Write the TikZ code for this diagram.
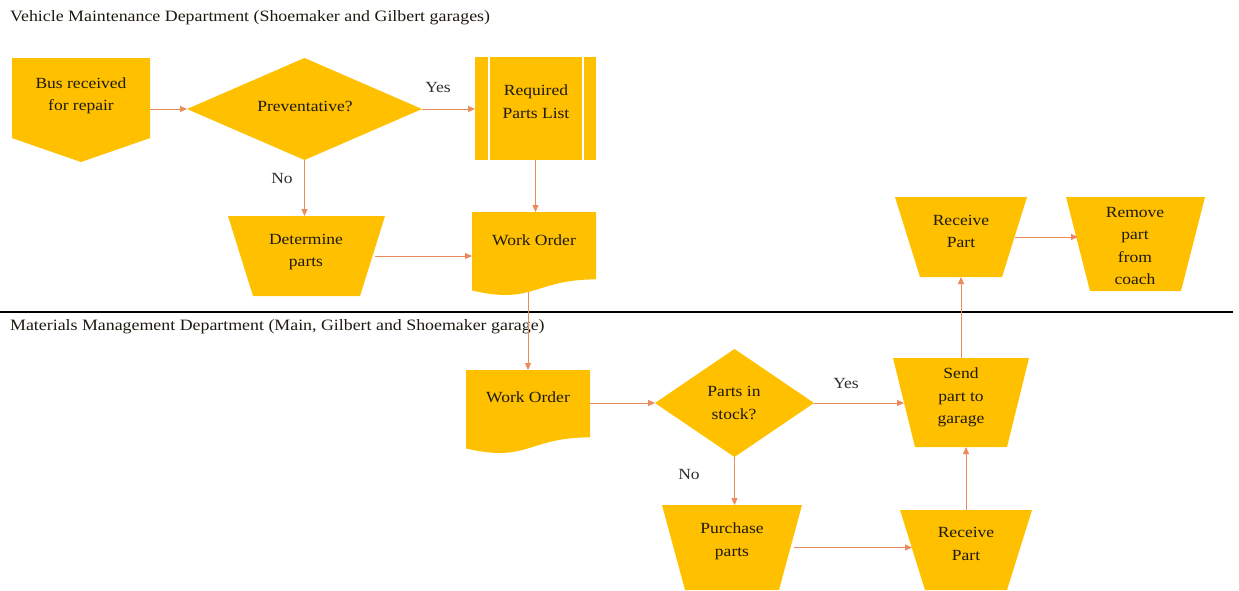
\documentclass[tikz,border=0pt]{standalone}
\usepackage{fontspec}
\setmainfont{Liberation Serif}[FakeStretch=1.13]
\usetikzlibrary{arrows.meta,calc}
\definecolor{gold}{HTML}{FFC000}
\definecolor{arrc}{HTML}{EC8A5E}
\definecolor{txt}{HTML}{1E1A10}
\definecolor{lblc}{HTML}{2E2E2E}
\begin{document}
\begin{tikzpicture}[x=1pt,y=-1pt,
  box/.style={rectangle, inner sep=0pt, outer sep=0pt},
  manop/.style={path picture={\fill[gold] (path picture bounding box.north west) -- (path picture bounding box.north east) -- ([xshift=-#1]path picture bounding box.south east) -- ([xshift=#1]path picture bounding box.south west) -- cycle;}},
  decision/.style={path picture={\fill[gold] (path picture bounding box.north) -- (path picture bounding box.east) -- (path picture bounding box.south) -- (path picture bounding box.west) -- cycle;}},
  offpage/.style={path picture={\fill[gold] (path picture bounding box.north west) -- (path picture bounding box.north east) -- ($(path picture bounding box.north east)!0.77!(path picture bounding box.south east)$) -- (path picture bounding box.south) -- ($(path picture bounding box.north west)!0.77!(path picture bounding box.south west)$) -- cycle;}},
  predef/.style={path picture={\fill[gold] (path picture bounding box.north west) rectangle (path picture bounding box.south east);
     \draw[white, line width=2.5pt] ([xshift=14pt]path picture bounding box.north west) -- ([xshift=14pt]path picture bounding box.south west);
     \draw[white, line width=2.5pt] ([xshift=-13pt]path picture bounding box.north east) -- ([xshift=-13pt]path picture bounding box.south east);}},
  doc/.style={path picture={\fill[gold] (path picture bounding box.north west) -- (path picture bounding box.north east) -- ($(path picture bounding box.north east)!0.802!(path picture bounding box.south east)$) .. controls ($(path picture bounding box.north)!0.802!(path picture bounding box.south)$) and ($(path picture bounding box.north)!1.108!(path picture bounding box.south)$) .. ($(path picture bounding box.north west)!0.934!(path picture bounding box.south west)$) -- cycle;}},
  txtst/.style={text=txt, font=\fontsize{15.5}{22.5}\selectfont, align=center, inner sep=0pt},
  lbl/.style={text=lblc, font=\fontsize{15.5}{18}\selectfont, inner sep=0pt},
  ttl/.style={text=txt, font=\fontsize{15.8}{18}\selectfont, inner sep=0pt, anchor=west},
  arr/.style={draw=arrc, line width=0.9pt, -{Triangle[length=7pt,width=6pt]}}
]
\useasboundingbox (0,0) rectangle (1239,590);

% titles
\node[ttl] (t1) at (10,18) {Vehicle Maintenance Department (Shoemaker and Gilbert garages)};
\node[ttl] (t2) at (10,327) {Materials Management Department (Main, Gilbert and Shoemaker garage)};

% separator
\coordinate (sepL) at (0,312);
\coordinate (sepR) at (1233,312);
\draw[black, line width=2.5pt] (sepL) -- (sepR);

% shapes (top lane)
\node[box, offpage, minimum width=138pt, minimum height=104pt] (bus) at (81,110) {};
\node[txtst] (bust) at (81,96) {Bus received\\for repair};
\node[box, decision, minimum width=235pt, minimum height=102pt] (prev) at (304.5,109) {};
\node[txtst] (prevt) at (305,106) {Preventative?};
\node[box, predef, minimum width=121pt, minimum height=103pt] (req) at (535.5,108.5) {};
\node[txtst] (reqt) at (536,101.5) {Required\\Parts List};
\node[box, manop=25pt, minimum width=157pt, minimum height=80pt] (det) at (306.5,256) {};
\node[txtst] (dett) at (306,252) {Determine\\parts};
\node[box, doc, minimum width=124pt, minimum height=84pt] (wo1) at (534,254) {};
\node[txtst] (wo1t) at (534,240) {Work Order};
\node[box, manop=25pt, minimum width=132pt, minimum height=80pt] (rp1) at (961,237) {};
\node[txtst] (rp1t) at (961,231.5) {Receive\\Part};
\node[box, manop=24pt, minimum width=139pt, minimum height=94pt] (rem) at (1135.5,244) {};
\node[txtst] (remt) at (1135,246) {Remove\\part\\from\\coach};

% shapes (bottom lane)
\node[box, doc, minimum width=124pt, minimum height=84pt] (wo2) at (528,412) {};
\node[txtst] (wo2t) at (528,397) {Work Order};
\node[box, decision, minimum width=159pt, minimum height=108pt] (stock) at (734.5,403) {};
\node[txtst] (stockt) at (734,403) {Parts in\\stock?};
\node[box, manop=22pt, minimum width=136pt, minimum height=89pt] (send) at (961,402.5) {};
\node[txtst] (sendt) at (961,397.5) {Send\\part to\\garage};
\node[box, manop=23pt, minimum width=140pt, minimum height=85pt] (purch) at (732,547.5) {};
\node[txtst] (purcht) at (732,541.5) {Purchase\\parts};
\node[box, manop=25pt, minimum width=132pt, minimum height=80pt] (rp2) at (966,550) {};
\node[txtst] (rp2t) at (966,544) {Receive\\Part};

% labels
\node[lbl] (yes1) at (438,87) {Yes};
\node[lbl] (no1) at (282,178) {No};
\node[lbl] (yes2) at (846,383) {Yes};
\node[lbl] (no2) at (689,474) {No};

% connectors
\draw[arr] (prev.west -| bus.east) -- (prev.west);
\draw[arr] (prev.east) -- (prev.east -| req.west);
\draw[arr] (req.south) -- (req.south |- wo1.north);
\draw[arr] (prev.south) -- (prev.south |- det.north);
\draw[arr] ($(det.east)+(-10,0)$) -- (det.east -| wo1.west);
\draw[arr] ([yshift=4pt]wo1.south -| wo2.north) -- (wo2.north);
\draw[arr] (stock.west -| wo2.east) -- (stock.west);
\draw[arr] (stock.east) -- ($(stock.east -| send.west)+(11,0)$);
\draw[arr] (stock.south) -- (stock.south |- purch.north);
\draw[arr] ($(purch.east)+(-8,0)$) -- ($(purch.east -| rp2.west)+(12,0)$);
\draw[arr] (rp2.north) -- (rp2.north |- send.south);
\draw[arr] (send.north) -- (send.north |- rp1.south);
\draw[arr] ($(rp1.east)+(-12,0)$) -- ($(rp1.east -| rem.west)+(12,0)$);
\end{tikzpicture}
\end{document}
